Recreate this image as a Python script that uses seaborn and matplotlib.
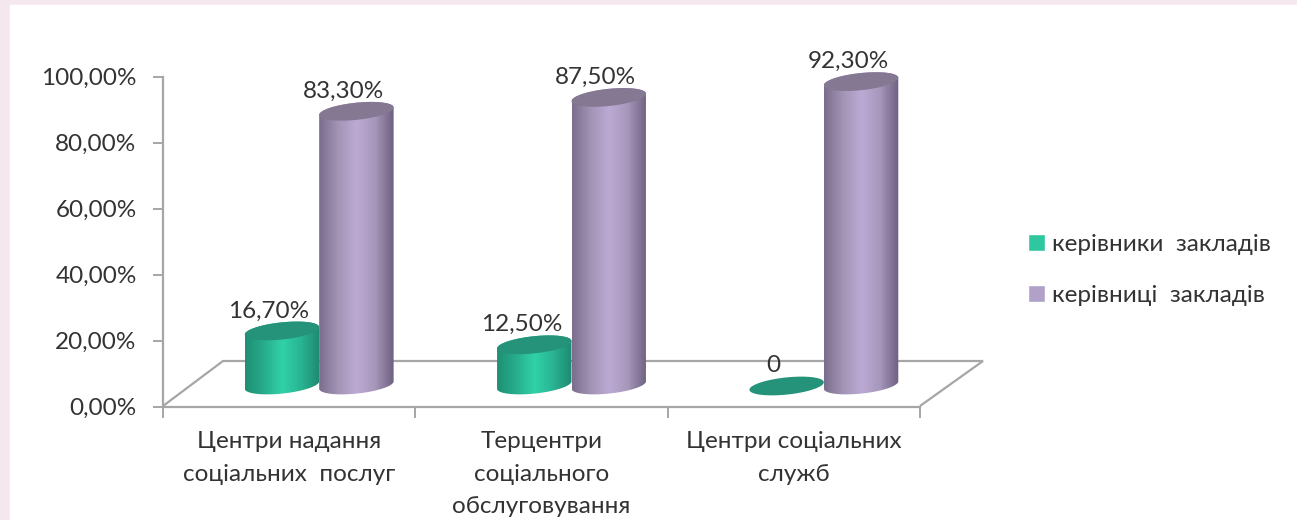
import numpy as np
import pandas as pd
import matplotlib
matplotlib.use("Agg")
import matplotlib.pyplot as plt
from matplotlib.colors import LinearSegmentedColormap
from matplotlib.patches import Rectangle, PathPatch, Polygon
from matplotlib.path import Path
import seaborn as sns

categories = ["Центри надання\nсоціальних  послуг", "Терцентри\nсоціального\nобслуговування", "Центри соціальних\nслужб"]
series_names = ["керівники  закладів", "керівниці  закладів"]
men_values = [16.7, 12.5, 0]
women_values = [83.3, 87.5, 92.3]
y_ticks = [0, 20, 40, 60, 80, 100]
y_tick_labels = ["0,00%", "20,00%", "40,00%", "60,00%", "80,00%", "100,00%"]

W, H = 1297, 520

sns.set_style("white")
plt.rcParams["font.family"] = ["Lato", "Open Sans", "DejaVu Sans"]

fig = plt.figure(figsize=(W / 100, H / 100), dpi=100, facecolor="#f4e7ed")
fig.patches.append(Rectangle((10 / W, 0), 1286 / W, 515 / H, transform=fig.transFigure, color="white", zorder=-5))

ax = fig.add_axes([163 / W, (H - 406.5) / H, 757 / W, 329.8 / H])
ax.patch.set_alpha(0)

df = pd.DataFrame({"cat": categories * 2,
                   "series": [series_names[0]] * 3 + [series_names[1]] * 3,
                   "value": men_values + women_values})
sns.barplot(data=df, x="cat", y="value", hue="series", palette=["#2fc7a0", "#b1a0c7"],
            width=0.59, gap=0, saturation=1, ax=ax, legend=True)

ax.set_xlim(-0.5, 2.5)
ax.set_ylim(0, 100)
ax.set_xlabel("")
ax.set_ylabel("")
ax.set_yticks(y_ticks, y_tick_labels)
ax.set_xticks(range(3), categories)
ax.set_xticks([-0.5, 0.5, 1.5, 2.5], minor=True)
grey = "#a6a6a6"
text_col = "#333333"
ax.tick_params(axis="y", left=True, length=7, width=1.4, color=grey, labelsize=17.5, labelcolor=text_col, pad=12)
ax.tick_params(axis="x", which="major", length=0, labelsize=17.5, labelcolor=text_col, pad=18)
ax.tick_params(axis="x", which="minor", bottom=True, length=8, width=1.4, color=grey)
for lab in ax.get_xticklabels():
    lab.set_linespacing(1.66)
sns.despine(ax=ax)
for side in ["left", "bottom"]:
    ax.spines[side].set_color(grey)
    ax.spines[side].set_linewidth(1.6)

sns.move_legend(ax, "upper left", bbox_to_anchor=(1028 / W, (H - 234) / H), bbox_transform=fig.transFigure,
                frameon=False, title=None, fontsize=17.5, handlelength=0.7, handleheight=0.7,
                handletextpad=0.3, labelspacing=1.25, labelcolor=text_col, borderpad=0, borderaxespad=0)

# overlay in pixel coordinates for the 3d look
over = fig.add_axes([0, 0, 1, 1])
over.set_xlim(0, W)
over.set_ylim(H, 0)
over.axis("off")
over.add_patch(Polygon([(163, 406), (223, 361), (983, 361), (920, 406)], closed=False, fill=False, edgecolor=grey, lw=1.6, zorder=1))

green_cm = LinearSegmentedColormap.from_list("g", ["#1f8f74", "#27ad8b", "#30d2a8", "#29b493", "#1e8a70"])
purple_cm = LinearSegmentedColormap.from_list("p", ["#7b6e8d", "#a394b6", "#bcaad4", "#a797bb", "#6d6180"])
top_colors = ["#25927a", "#857893"]
cmaps = [green_cm, purple_cm]

SHIFT_X, SHIFT_Y = 30, -21.5
SHEAR, B = 0.1, 8.6


def ellipse_pts(cx, cy, a, t0, t1):
    t = np.linspace(t0, t1, 60)
    x = cx + a * np.cos(t)
    y = cy + B * np.sin(t) - SHEAR * (x - cx)
    return np.column_stack([x, y])


for s, container in enumerate(ax.containers):
    for bar in container:
        x0, y0 = ax.transData.transform((bar.get_x(), 0))
        x1, y1 = ax.transData.transform((bar.get_x() + bar.get_width(), bar.get_height()))
        bar.set_visible(False)
        cx = (x0 + x1) / 2 + SHIFT_X
        a = (x1 - x0) / 2
        yb = H - y0 + SHIFT_Y
        yt = H - y1 + SHIFT_Y + 1
        z = 2 + 2 * s
        if bar.get_height() > 0:
            outline = np.vstack([ellipse_pts(cx, yt, a, np.pi, 2 * np.pi),
                                 ellipse_pts(cx, yb, a, 0, np.pi)])
            im = over.imshow(np.linspace(0, 1, 100)[None, :], cmap=cmaps[s], aspect="auto",
                             extent=[cx - a, cx + a, yb + 20, yt - 20], interpolation="bilinear", zorder=z)
            clip = PathPatch(Path(np.vstack([outline, outline[:1]])), transform=over.transData, fc="none", ec="none")
            over.add_patch(clip)
            im.set_clip_path(clip)
        top = ellipse_pts(cx, yt, a, 0, 2 * np.pi)
        over.add_patch(Polygon(top, closed=True, fc=top_colors[s], ec="none", zorder=z + 1))
        value = bar.get_height()
        text = "0" if value == 0 else f"{value:.2f}".replace(".", ",") + "%"
        over.text(cx - 13, yt - 20, text, ha="center", va="center", fontsize=17.5, color=text_col, zorder=10)

over.set_xlim(0, W)
over.set_ylim(H, 0)

fig.savefig("out.png", dpi=100, facecolor=fig.get_facecolor())
